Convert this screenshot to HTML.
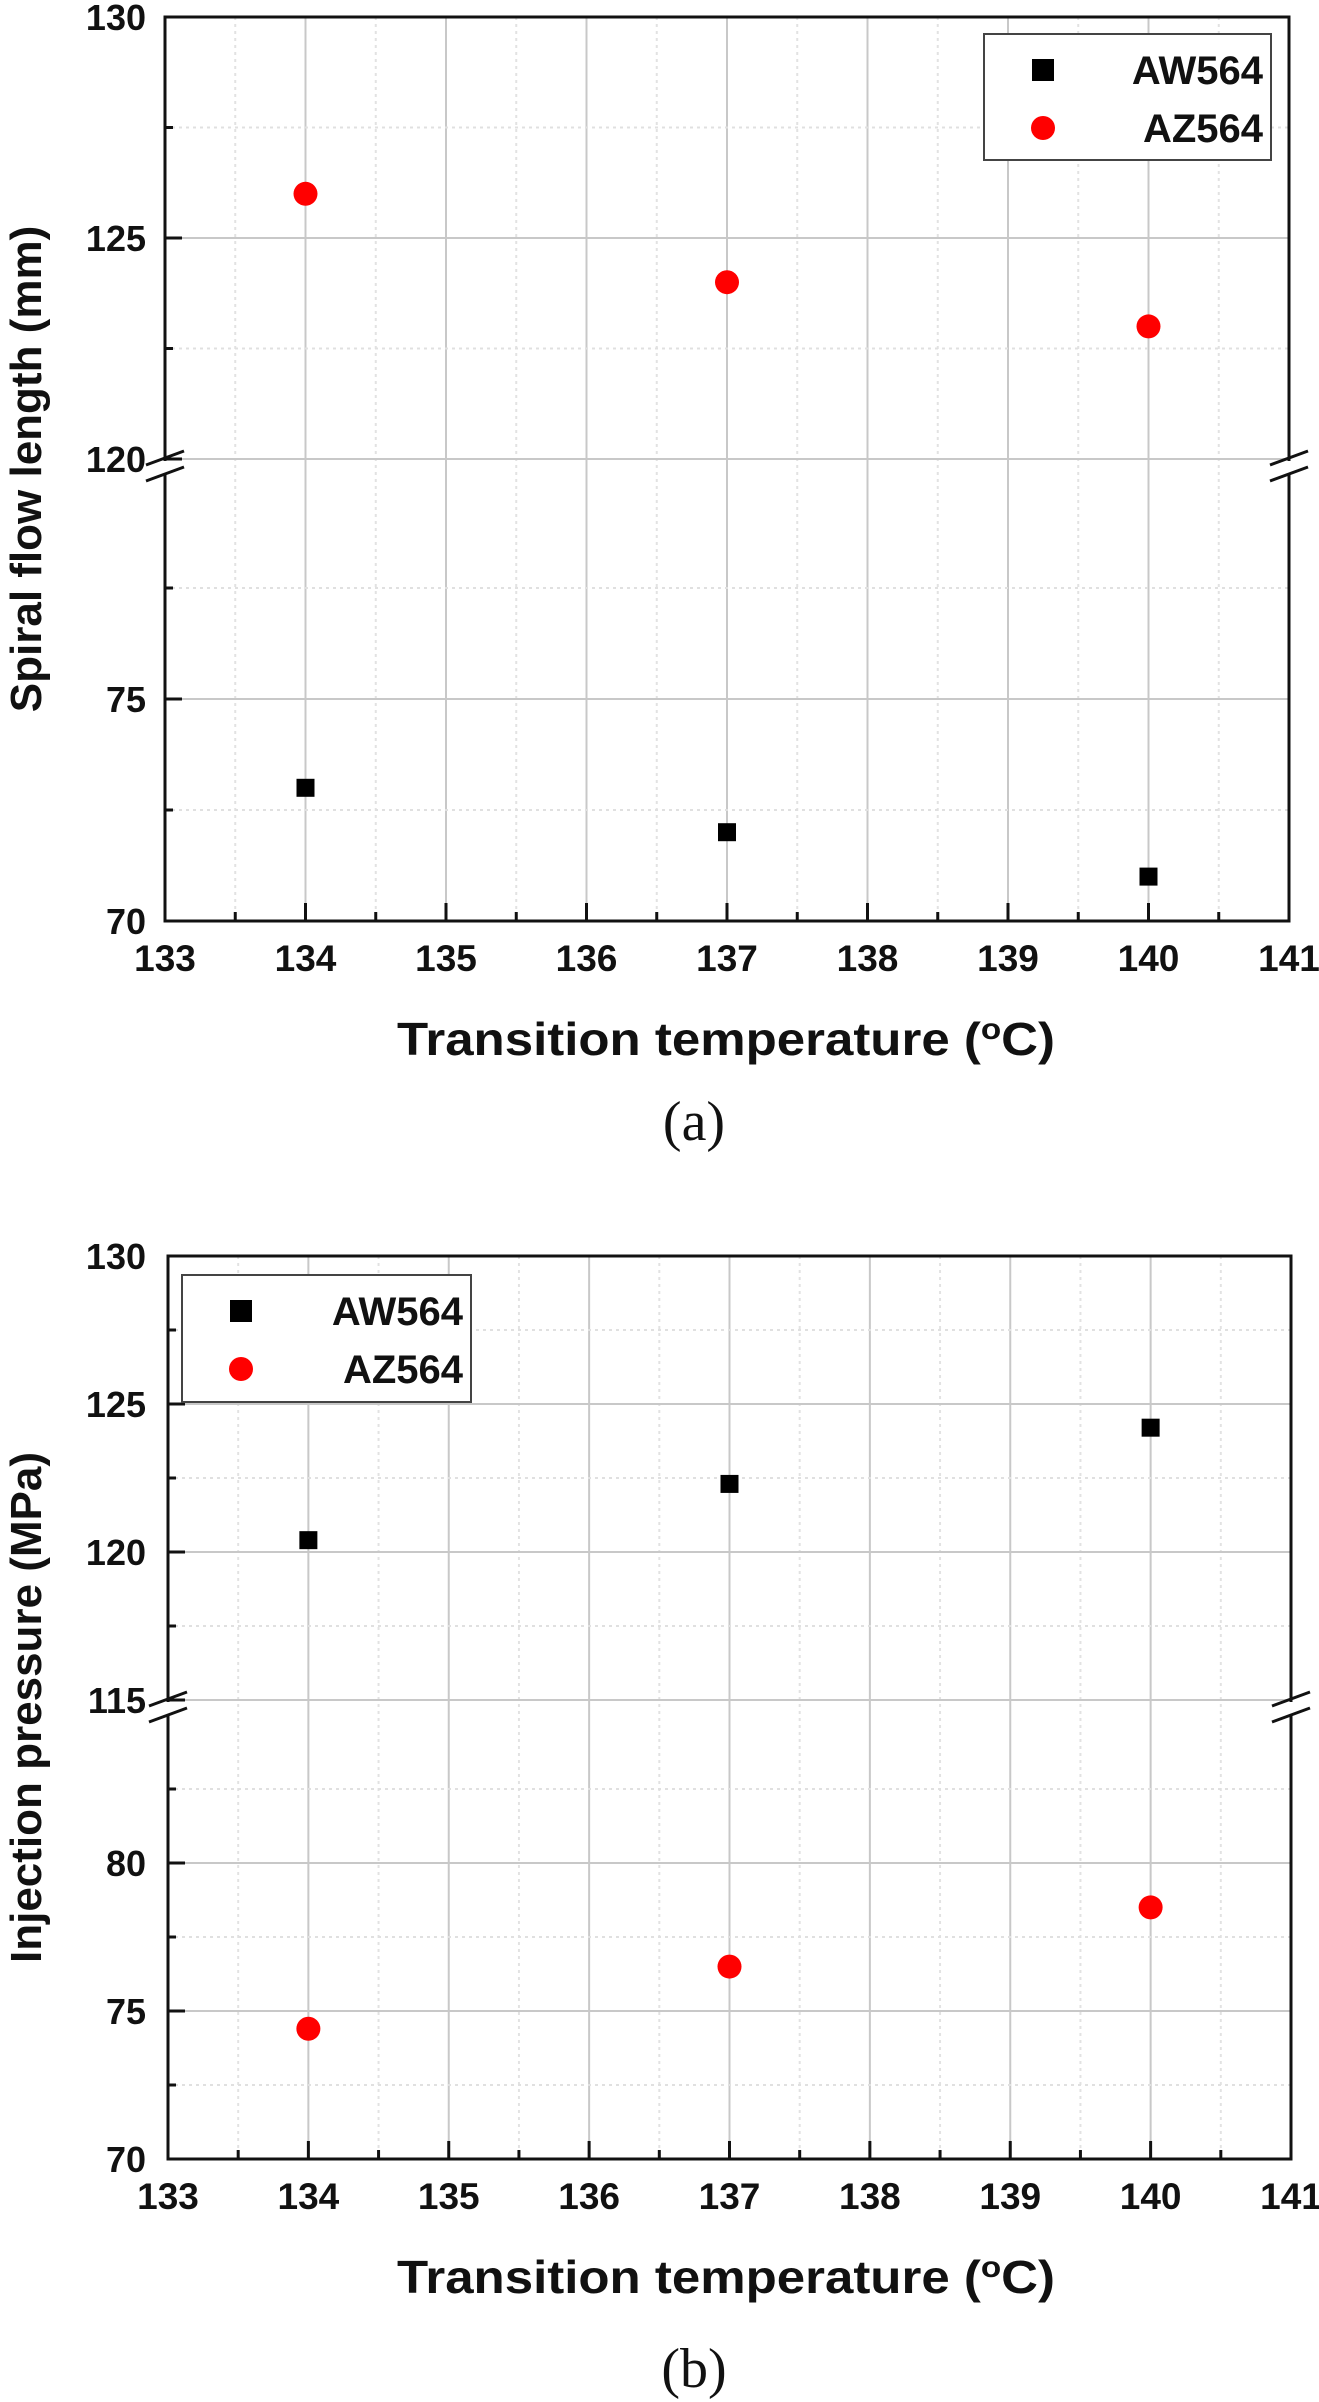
<!DOCTYPE html>
<html><head><meta charset="utf-8">
<style>
html,body{margin:0;padding:0;background:#fff;}
svg{display:block;}
text{font-family:"Liberation Sans",Arial,sans-serif;}
</style></head>
<body>
<svg id="fig" width="1319" height="2402" viewBox="0 0 1319 2402" xmlns="http://www.w3.org/2000/svg"></svg>
<script>
// ---- data ----
const temps = [134, 137, 140];
const seriesNames = ["AW564", "AZ564"];
const aW564Flow = [73, 72, 71];
const aZ564Flow = [126, 124, 123];
const aW564Press = [120.4, 122.3, 124.2];
const aZ564Press = [74.4, 76.5, 78.5];
const xTicks = [133, 134, 135, 136, 137, 138, 139, 140, 141];
const yTicksA = [70, 75, 120, 125, 130];
const yTicksB = [70, 75, 80, 115, 120, 125, 130];

const NS = "http://www.w3.org/2000/svg";
const svg = document.getElementById("fig");
function el(tag, attrs, parent, text) {
  const e = document.createElementNS(NS, tag);
  for (const k in attrs) e.setAttribute(k, attrs[k]);
  if (text !== undefined) e.textContent = text;
  (parent || svg).appendChild(e);
  return e;
}

function chart(cfg) {
  const g = el("g", {});
  
  
  const L = cfg.left, R = cfg.right, T = cfg.top, B = cfg.bottom;
  const xs = v => L + (v - 133) / 8 * (R - L);
  // piecewise y: upper segment [uLo,uHi] at [breakY,T]; lower segment [70,...] from B up with unit px
  const ys = v => v >= cfg.uLo ? T + (cfg.uHi - v) * cfg.upx : B - (v - 70) * cfg.lpx;
  // grid
  for (let v = 133.5; v < 141; v += 1) {
    const ln = el("line", {x1: xs(v), x2: xs(v), y1: T, y2: B, stroke: "#e2e2e2", "stroke-width": 2, "stroke-dasharray": "3 4"}, g);
    
    
  }
  for (let v = 134; v <= 140; v++) {
    const ln = el("line", {x1: xs(v), x2: xs(v), y1: T, y2: B, stroke: "#c8c8c8", "stroke-width": 2}, g);
    
    
  }
  cfg.minorY.forEach(v => {
    const ln = el("line", {x1: L, x2: R, y1: ys(v), y2: ys(v), stroke: "#e0e0e0", "stroke-width": 2, "stroke-dasharray": "3 4"}, g);
    
    
    const tk = el("line", {x1: L, x2: L + 8, y1: ys(v), y2: ys(v), stroke: "#111", "stroke-width": 3}, g);
    
    
  });
  cfg.yTicks.forEach(v => {
    if (v !== cfg.uHi && v !== 70) {
      const ln = el("line", {x1: L, x2: R, y1: ys(v), y2: ys(v), stroke: "#c8c8c8", "stroke-width": 2}, g);
      
      
    }
    const tk = el("line", {x1: L, x2: L + 17, y1: ys(v), y2: ys(v), stroke: "#111", "stroke-width": 3}, g);
    
    
    const t = el("text", {x: 146, y: ys(v) + 13, "text-anchor": "end", "font-size": 36, "font-weight": "bold", fill: "#111"}, g, v);
    
    
  });
  // x ticks
  for (let v = 133.5; v < 141; v += 1) {
    const tk = el("line", {x1: xs(v), x2: xs(v), y1: B, y2: B - 9, stroke: "#111", "stroke-width": 3}, g);
    
    
  }
  xTicks.forEach(v => {
    const tk = el("line", {x1: xs(v), x2: xs(v), y1: B, y2: B - 18, stroke: "#111", "stroke-width": 3}, g);
    
    
    const t = el("text", {x: xs(v), y: B + 50, "text-anchor": "middle", "font-size": 37, "font-weight": "bold", fill: "#111"}, g, v);
    
    
  });
  // frame
  const fr = el("rect", {x: L, y: T, width: R - L, height: B - T, fill: "none", stroke: "#111", "stroke-width": 3}, g);
  
  
  // break marks
  const by = ys(cfg.uLo);
  [L, R].forEach(x => {
    const bg = el("rect", {x: x - 4, y: by + 2, width: 8, height: 14, fill: "#fff"}, g);
    
    
    [0, 16].forEach(d => {
      const ln = el("line", {x1: x - 19, x2: x + 19, y1: by + 10 + d - 4, y2: by - 4 + d - 4, stroke: "#111", "stroke-width": 3}, g);
      
      
    });
  });
  // series
  temps.forEach((t, i) => {
    const sq = el("rect", {x: xs(t) - 9, y: ys(cfg.aw[i]) - 9, width: 18, height: 18, fill: "#000"}, g);
    
    
    const c = el("circle", {cx: xs(t), cy: ys(cfg.az[i]), r: 12, fill: "#ff0000"}, g);
    
    
  });
  // legend
  const lg = cfg.legend;
  const lb = el("g", {}, g);
  
  
  const lr = el("rect", {x: lg.x, y: lg.y, width: lg.w, height: lg.h, fill: "#fff", stroke: "#444", "stroke-width": 2}, lb);
  
  
  seriesNames.forEach((n, i) => {
    const cy = lg.y + 36 + i * 58;
    const mx = lg.x + 59;
    if (i === 0) {
      const m = el("rect", {x: mx - 11, y: cy - 11, width: 22, height: 22, fill: "#000"}, lb);
      
      
    } else {
      const m = el("circle", {cx: mx, cy: cy, r: 12, fill: "#ff0000"}, lb);
      
      
    }
    const t = el("text", {x: lg.x + lg.w - 8, y: cy + 14, "text-anchor": "end", "font-size": 40, "font-weight": "bold", fill: "#111"}, lb, n);
    
    
  });
  // axis titles
  const xt = el("text", {x: 397, y: cfg.xTitleY, "font-size": 46, "font-weight": "bold", fill: "#111", textLength: 658, lengthAdjust: "spacingAndGlyphs"}, g);
  
  
  xt.appendChild(document.createTextNode("Transition temperature ("));
  const sup = el("tspan", {"font-size": 30, dy: -16}, xt, "o");
  el("tspan", {dy: 16}, xt, "C)");
  const cy = (T + B) / 2;
  const yt = el("text", {x: 0, y: 0, transform: `translate(41,${cy}) rotate(-90)`, "text-anchor": "middle", "font-size": 44, "font-weight": "bold", fill: "#111"}, g, cfg.yTitle);
  
  
  const cap = el("text", {x: 694, y: cfg.capY, "text-anchor": "middle", "font-size": 56, "font-family": "Liberation Serif, serif", fill: "#111", style: "font-family:'Liberation Serif',serif"}, g, cfg.caption);
  
  
}

chart({name: "chart-a-spiral-flow", left: 165, right: 1289, top: 17, bottom: 921,
  uLo: 120, uHi: 130, upx: 44.2, lpx: 44.4,
  yTicks: yTicksA, minorY: [72.5, 77.5, 122.5, 127.5],
  aw: aW564Flow, az: aZ564Flow,
  legend: {x: 984, y: 34, w: 287, h: 126},
  xTitleY: 1055, yTitle: "Spiral flow length (mm)", capY: 1140, caption: "(a)"});

chart({name: "chart-b-injection-pressure", left: 168, right: 1291, top: 1256, bottom: 2159,
  uLo: 115, uHi: 130, upx: 29.6, lpx: 29.6,
  yTicks: yTicksB, minorY: [72.5, 77.5, 82.5, 117.5, 122.5, 127.5],
  aw: aW564Press, az: aZ564Press,
  legend: {x: 182, y: 1275, w: 289, h: 127},
  xTitleY: 2293, yTitle: "Injection pressure (MPa)", capY: 2387, caption: "(b)"});
</script>
</body></html>
